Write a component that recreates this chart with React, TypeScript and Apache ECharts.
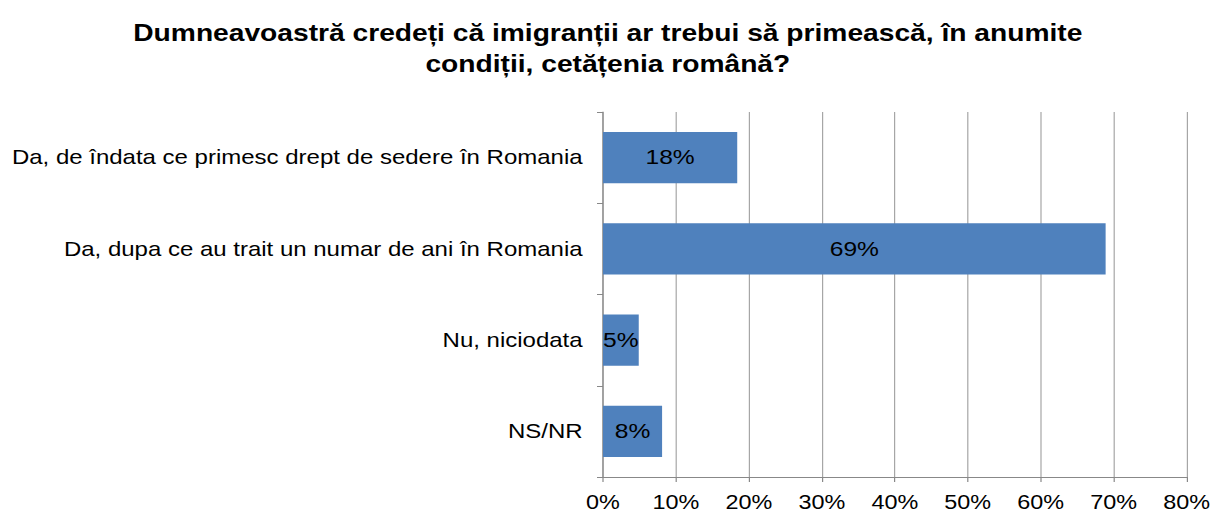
import React, { useEffect, useRef } from "react";
import * as echarts from "echarts";

const categories = [
  "Da, de îndata ce primesc drept de sedere în Romania",
  "Da, dupa ce au trait un numar de ani în Romania",
  "Nu, niciodata",
  "NS/NR",
];
const values = [18.4, 68.9, 4.9, 8.1];
const valueLabels = ["18%", "69%", "5%", "8%"];
const titleText = "Dumneavoastră credeți că imigranții ar trebui să primească, în anumite\ncondiții, cetățenia română?";

const SX = 1.2;
const W = 1216 / SX;
const FONT = "Liberation Sans, Arial, sans-serif";

export default function App() {
  const ref = useRef<HTMLDivElement>(null);
  useEffect(() => {
    if (!ref.current) return;
    const chart = echarts.init(ref.current, null, { renderer: "svg" });
    chart.setOption({
      animation: false,
      title: {
        text: titleText,
        left: "center",
        top: 12,
        textStyle: {
          fontFamily: FONT,
          fontWeight: "bold",
          fontSize: 23.5,
          lineHeight: 31,
          color: "#000",
        },
      },
      grid: { left: 603 / SX, right: 29 / SX, top: 112, bottom: 38, containLabel: false },
      xAxis: {
        type: "value",
        min: 0,
        max: 80,
        interval: 10,
        axisLine: { show: true, lineStyle: { color: "#888", width: 1 } },
        axisTick: { show: true, length: 5, lineStyle: { color: "#888" } },
        axisLabel: {
          formatter: "{value}%",
          fontFamily: FONT,
          fontSize: 19.5,
          color: "#000",
          margin: 16,
        },
        splitLine: { show: true, lineStyle: { color: "#a6a6a6", width: 1 } },
      },
      yAxis: {
        type: "category",
        data: categories,
        inverse: true,
        axisLine: { show: true, lineStyle: { color: "#888", width: 1 } },
        axisTick: { show: true, length: 5, lineStyle: { color: "#888" } },
        axisLabel: {
          fontFamily: FONT,
          fontSize: 20,
          color: "#000",
          margin: 17,
        },
      },
      series: [
        {
          type: "bar",
          data: values,
          barCategoryGap: "44%",
          itemStyle: { color: "#4F81BD" },
          label: {
            show: true,
            position: "inside",
            formatter: (p: any) => valueLabels[p.dataIndex],
            fontFamily: FONT,
            fontSize: 20.5,
            color: "#000",
          },
        },
      ],
    });
    return () => chart.dispose();
  }, []);
  return (
    <div
      ref={ref}
      style={{
        position: "absolute",
        left: 0,
        top: 0,
        width: W,
        height: 515,
        transform: `scaleX(${SX})`,
        transformOrigin: "0 0",
      }}
    />
  );
}
